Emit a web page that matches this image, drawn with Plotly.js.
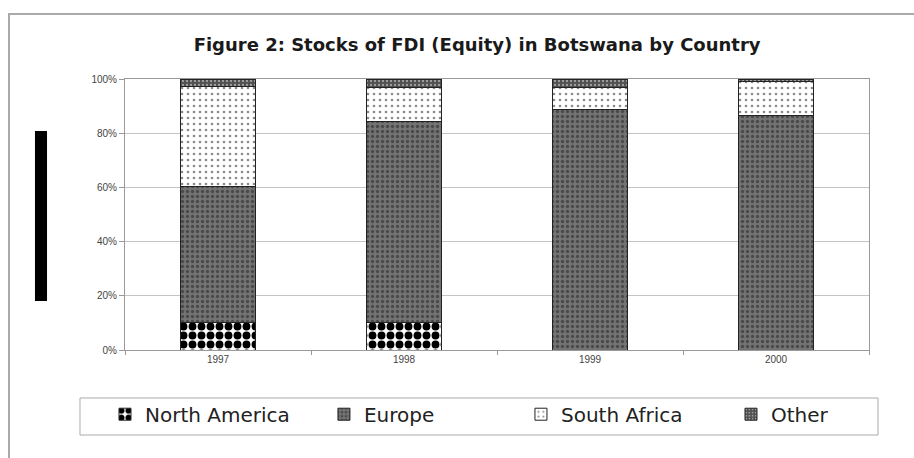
<!DOCTYPE html>
<html>
<head>
<meta charset="utf-8">
<script src="https://cdn.plot.ly/plotly-3.0.1.min.js"></script>
<style>html,body{margin:0;padding:0;background:#fff;}#chart{width:914px;height:458px;}</style>
</head>
<body>
<div id="chart"></div>
<script>
const years = ["1997", "1998", "1999", "2000"];
const northAmerica = [10, 10, 0, 0];
const europe = [50.5, 74.4, 88.7, 86.6];
const southAfrica = [36.7, 12.3, 8.3, 12.4];
const other = [2.8, 3.3, 3.0, 1.0];
const seriesNames = ["North America", "Europe", "South Africa", "Other"];
const yTicks = [0, 20, 40, 60, 80, 100];

const styles = [
  {bg: "#ffffff", fg: "#000000", shape: ".", size: 9, solidity: 0.6},
  {bg: "#737373", fg: "#4a4a4a", shape: ".", size: 5, solidity: 0.35},
  {bg: "#ffffff", fg: "#8a8a8a", shape: ".", size: 6, solidity: 0.15},
  {bg: "#505050", fg: "#a0a0a0", shape: ".", size: 4, solidity: 0.25}
];
const legendNames = ["legend", "legend2", "legend3", "legend4"];
const legendX = [-0.0269, 0.2674, 0.5322, 0.8145];
const values = [northAmerica, europe, southAfrica, other];

const traces = values.map((v, i) => ({
  type: "bar",
  name: seriesNames[i],
  x: years,
  y: v,
  legend: legendNames[i],
  marker: {
    color: styles[i].bg,
    line: {color: "#222", width: 1},
    pattern: {shape: styles[i].shape, fgcolor: styles[i].fg, bgcolor: styles[i].bg, fgopacity: 1,
              size: styles[i].size, solidity: styles[i].solidity, fillmode: "overlay"}
  },
  hoverinfo: "name+y"
}));

const layout = {
  width: 914, height: 458,
  margin: {l: 125, r: 45, t: 79, b: 108},
  barmode: "stack",
  bargap: 0.6,
  paper_bgcolor: "#ffffff",
  plot_bgcolor: "#ffffff",
  font: {family: "Arial, Liberation Sans, sans-serif", color: "#333"},
  title: {text: "Figure 2: Stocks of FDI (Equity) in Botswana by Country",
          font: {family: "DejaVu Sans, Arial, sans-serif", size: 18, color: "#1a1a1a", weight: "bold"},
          x: 0.522, xanchor: "center", y: 0.902, yanchor: "middle"},
  xaxis: {
    type: "category",
    showline: true, linecolor: "#999", linewidth: 1, mirror: true,
    ticks: "outside", tickson: "boundaries", ticklen: 4, tickcolor: "#999",
    tickfont: {size: 10, color: "#444"},
    showgrid: false
  },
  yaxis: {
    range: [0, 100],
    tickvals: yTicks,
    ticktext: yTicks.map(t => t + "%"),
    showline: true, linecolor: "#999", linewidth: 1, mirror: true,
    ticks: "outside", ticklen: 5, tickcolor: "#999",
    tickfont: {size: 10, color: "#444"},
    showgrid: true, gridcolor: "#c4c4c4", gridwidth: 1,
    zeroline: false
  },
  showlegend: true,
  shapes: [
    {type: "rect", xref: "paper", yref: "paper", x0: -0.1559, x1: 1.08, y0: -0.45, y1: 1.2399,
     line: {color: "#aaa", width: 2}, fillcolor: "rgba(0,0,0,0)", layer: "below"},
    {type: "rect", xref: "paper", yref: "paper", x0: -0.0605, x1: 1.0121, y0: -0.3137, y1: -0.1771,
     line: {color: "#aaa", width: 1}, fillcolor: "rgba(0,0,0,0)", layer: "below"},
    {type: "rect", xref: "paper", yref: "paper", x0: -0.121, x1: -0.1048, y0: 0.181, y1: 0.808,
     line: {width: 0}, fillcolor: "#000000", layer: "above"}
  ]
};
legendNames.forEach((ln, i) => {
  layout[ln] = {
    orientation: "h",
    x: legendX[i], xanchor: "left",
    y: -0.165, yanchor: "top",
    bgcolor: "rgba(0,0,0,0)", borderwidth: 0,
    font: {family: "DejaVu Sans, Arial, sans-serif", size: 20, color: "#222"},
    itemwidth: 30
  };
});

Plotly.newPlot("chart", traces, layout, {displayModeBar: false, staticPlot: true});
</script>
</body>
</html>
